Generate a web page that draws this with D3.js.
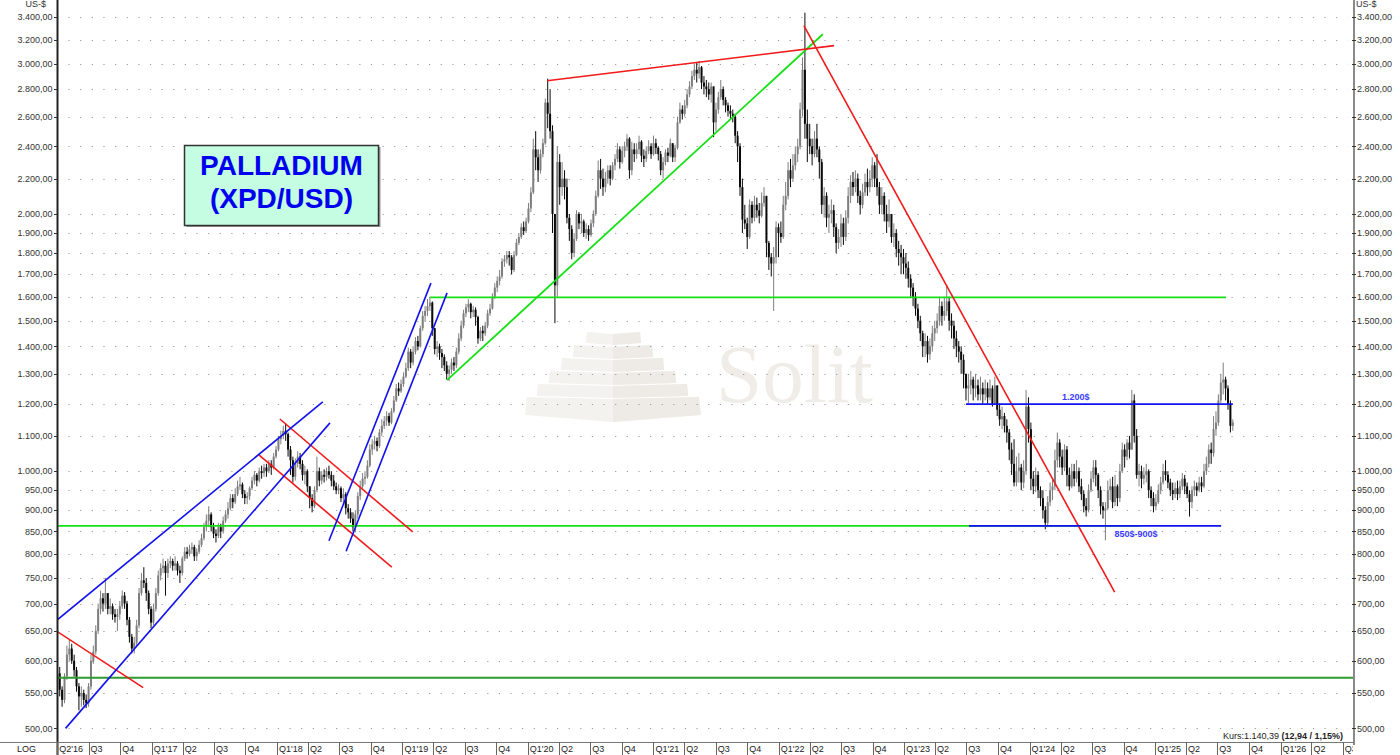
<!DOCTYPE html>
<html><head><meta charset="utf-8">
<script src="https://cdn.jsdelivr.net/npm/d3@7"></script>
<style>
html,body{margin:0;padding:0;background:#fff;}
svg{display:block;font-family:"Liberation Sans",Arial,sans-serif;}
</style></head><body>
<svg id="chart" width="1400" height="755"></svg>
<script>
// ---------------- DATA ----------------
// weekly candles [high, low, close]; open = previous close
const firstWeek = "2016-04-04";
const firstOpen = 580;
const w2016 = [[590,545,555],[560,530,540],[580,535,575],[625,570,610],[635,600,620],[628,595,600],[610,575,585],[590,552,560],[565,525,545],[560,530,550],[555,532,540],[548,528,535],[565,530,560],
[610,555,600],[625,595,615],[660,610,650],[700,645,690],[725,680,710],[720,685,700],[750,690,720],[720,680,690],[710,680,695],[700,670,680],[690,665,675],[690,650,680],[705,670,695],
[725,690,715],[722,690,700],[705,660,670],[675,630,640],[645,612,620],[640,612,630],[670,625,660],[730,655,720],[760,715,745],[772,730,740],[750,705,720],[725,680,690],[695,655,665]];
const w2017 = [[700,660,690],[730,685,720],[765,715,755],[780,745,770],[790,760,775],[785,715,760],[790,750,780],[795,770,785],[790,765,775],[795,765,780],[785,755,765],[775,740,760],[795,755,790],
[815,785,805],[815,790,800],[820,795,810],[825,800,815],[820,785,795],[812,785,805],[830,800,820],[845,815,835],[870,830,860],[890,850,875],[910,860,890],[895,850,860],[870,835,845],
[855,825,840],[870,835,860],[868,835,850],[885,845,875],[900,870,890],[920,880,905],[940,900,930],[940,905,920],[955,915,940],[975,935,960],[985,950,965],[970,930,940],[950,915,930],
[945,915,935],[960,925,955],[985,950,975],[1000,965,990],[995,960,975],[1010,970,1000],[1015,980,995],[1020,985,1010],[1020,985,1000],[1030,995,1020],[1030,990,1010],[1050,1005,1040],[1070,1035,1060]];
const w2018 = [[1100,1055,1090],[1115,1075,1100],[1130,1090,1115],[1138,1085,1105],[1110,1040,1060],[1070,990,1030],[1040,970,985],[1035,975,1020],[1055,1010,1040],[1050,1005,1020],[1030,975,990],[1015,965,1000],[1005,945,960],
[960,905,930],[940,895,910],[960,905,950],[1040,945,1000],[1010,960,975],[1000,965,990],[1005,970,985],[1010,975,1000],[1015,980,990],[1000,960,975],[990,950,960],[970,940,950],[965,940,955],
[960,920,930],[955,915,940],[945,890,905],[915,880,895],[905,870,880],[895,850,860],[900,848,890],[945,880,935],[975,925,960],[995,955,980],[1000,965,985],[1030,980,1015],[1075,1010,1060],
[1090,1045,1075],[1100,1060,1085],[1095,1055,1070],[1120,1065,1110],[1150,1100,1130],[1160,1120,1145],[1175,1130,1160],[1170,1130,1140],[1185,1135,1175],[1225,1170,1210],[1265,1205,1250],[1270,1225,1240],[1280,1235,1265]];
const w2019 = [[1305,1255,1290],[1340,1285,1320],[1395,1310,1380],[1390,1320,1340],[1400,1330,1380],[1435,1370,1420],[1440,1385,1400],[1480,1395,1470],[1540,1460,1520],[1560,1495,1540],[1590,1520,1560],[1600,1540,1575],[1580,1440,1470],
[1460,1370,1390],[1420,1360,1400],[1410,1350,1375],[1390,1320,1360],[1370,1310,1330],[1345,1280,1300],[1330,1275,1315],[1355,1300,1340],[1360,1310,1330],[1395,1320,1380],[1450,1370,1430],[1500,1420,1480],[1545,1470,1530],
[1570,1515,1555],[1590,1535,1570],[1575,1510,1535],[1560,1515,1545],[1555,1480,1515],[1520,1410,1430],[1475,1420,1460],[1480,1420,1450],[1495,1440,1480],[1545,1470,1530],[1570,1520,1550],[1615,1545,1600],[1660,1590,1640],
[1690,1620,1670],[1720,1650,1690],[1775,1680,1760],[1790,1735,1770],[1810,1750,1790],[1810,1740,1780],[1790,1700,1720],[1810,1710,1790],[1870,1785,1850],[1900,1840,1880],[1950,1870,1930],[1960,1890,1910],[1980,1900,1960]];
const w2020 = [[2060,1950,2030],[2150,2010,2120],[2450,2110,2380],[2500,2250,2330],[2380,2180,2250],[2380,2230,2350],[2450,2330,2420],[2730,2410,2700],[2880,2520,2620],[2800,2450,2500],[2540,1900,2000],[2000,1490,1650],[2400,1600,2300],
[2350,2050,2150],[2300,2100,2200],[2250,2080,2150],[2200,1950,1980],[2000,1860,1920],[1940,1770,1800],[1900,1780,1870],[2020,1860,2000],[2010,1920,1950],[2000,1900,1960],[1970,1880,1900],[1950,1870,1920],[1940,1860,1890],
[1970,1880,1950],[2020,1930,2000],[2130,1990,2100],[2310,2090,2250],[2320,2140,2200],[2260,2100,2150],[2240,2120,2200],[2280,2170,2250],[2280,2160,2200],[2300,2190,2280],[2350,2250,2320],[2420,2300,2380],[2400,2260,2300],
[2400,2290,2370],[2430,2330,2400],[2480,2370,2450],[2460,2200,2250],[2430,2220,2380],[2420,2300,2350],[2420,2320,2380],[2470,2350,2430],[2440,2300,2340],[2380,2270,2320],[2400,2300,2370],[2440,2350,2400],[2420,2320,2350]];
const w2021 = [[2470,2340,2420],[2450,2350,2390],[2400,2310,2350],[2370,2220,2250],[2330,2200,2300],[2380,2280,2360],[2390,2300,2340],[2450,2330,2420],[2420,2300,2330],[2410,2300,2390],[2600,2380,2560],[2700,2550,2650],[2680,2580,2620],
[2720,2600,2680],[2800,2660,2760],[2860,2740,2820],[2940,2800,2900],[3000,2870,2950],[3010,2850,2920],[3020,2880,2970],[2980,2800,2850],[2900,2760,2820],[2870,2740,2800],[2850,2720,2760],[2850,2700,2820],[2800,2460,2560],
[2700,2500,2650],[2780,2620,2740],[2870,2720,2800],[2820,2680,2720],[2740,2630,2680],[2700,2600,2640],[2680,2580,2620],[2650,2560,2600],[2620,2420,2470],[2500,2300,2400],[2420,2100,2150],[2200,1900,1970],[2050,1920,1950],
[1980,1820,1880],[2080,1870,2050],[2070,1950,1980],[2100,1960,2050],[2090,1980,2020],[2060,1950,1990],[2120,1980,2060],[2150,2040,2100],[2080,1780,1850],[1860,1720,1780],[1800,1690,1750],[1830,1540,1780],[1960,1750,1930]];
const w2022 = [[1950,1780,1900],[1960,1850,1880],[2100,1870,2050],[2180,2020,2100],[2300,2080,2250],[2320,2150,2200],[2350,2180,2280],[2400,2250,2350],[2450,2300,2400],[2700,2380,2650],[3050,2600,2950],[3440,2450,2550],[2650,2300,2450],
[2550,2350,2400],[2450,2280,2350],[2500,2330,2450],[2550,2330,2380],[2400,2200,2300],[2320,2000,2050],[2150,1980,2100],[2120,1930,1980],[2050,1900,2000],[2080,1950,2020],[2050,1880,1930],[1950,1800,1850],[1920,1820,1880],
[2000,1830,1950],[1980,1840,1880],[2020,1860,1980],[2150,1950,2100],[2220,2060,2180],[2240,2100,2150],[2250,2120,2200],[2230,2060,2100],[2130,2000,2050],[2170,2030,2120],[2230,2100,2180],[2260,2100,2150],[2250,2120,2200],
[2330,2150,2280],[2300,2150,2200],[2350,2100,2150],[2180,2000,2050],[2150,2000,2100],[2120,1960,2000],[2050,1900,1960],[2080,1930,2000],[2000,1850,1880],[1950,1830,1900],[1920,1780,1820],[1860,1740,1800],[1840,1700,1780]];
const w2023 = [[1820,1700,1750],[1800,1680,1730],[1760,1640,1680],[1700,1600,1640],[1660,1560,1600],[1620,1520,1550],[1570,1470,1500],[1520,1420,1450],[1460,1360,1400],[1450,1360,1420],[1440,1340,1370],[1430,1350,1400],[1480,1380,1450],
[1500,1420,1470],[1530,1450,1500],[1600,1480,1560],[1580,1480,1520],[1600,1500,1540],[1650,1520,1580],[1600,1460,1500],[1530,1430,1480],[1500,1390,1430],[1460,1360,1400],[1420,1340,1380],[1400,1300,1350],[1370,1250,1300],
[1300,1210,1250],[1300,1200,1260],[1310,1230,1280],[1290,1210,1250],[1300,1220,1260],[1280,1210,1230],[1290,1210,1250],[1270,1200,1230],[1280,1210,1250],[1270,1200,1220],[1280,1210,1250],[1260,1190,1200],[1290,1195,1260],
[1240,1160,1180],[1200,1130,1150],[1190,1120,1160],[1170,1110,1130],[1150,1080,1110],[1120,1030,1060],[1080,990,1020],[1090,960,970],[1040,960,1000],[1050,970,1010],[1020,950,970],[1030,955,1000],[1245,990,1190]];
const w2024 = [[1220,1080,1120],[1140,950,980],[1000,940,960],[1010,945,990],[1000,930,950],[960,910,930],[950,880,900],[910,855,870],[935,860,920],[970,910,950],[980,925,960],[1060,950,1030],[1110,1010,1080],
[1090,1010,1040],[1060,990,1010],[1075,1000,1060],[1070,960,990],[1010,950,960],[1020,955,1000],[1020,960,980],[1030,970,1000],[1010,945,960],[980,925,940],[950,895,910],[930,885,900],[965,895,950],
[1000,945,980],[1030,970,1010],[1030,960,990],[995,930,950],[960,890,910],[920,880,900],[920,830,905],[975,900,950],[980,925,960],[985,905,920],[990,910,960],[965,910,930],[1020,920,1000],
[1080,995,1060],[1075,1010,1040],[1090,1030,1080],[1100,1035,1060],[1245,1060,1210],[1230,1080,1100],[1120,980,990],[1020,960,1000],[1015,955,980],[1010,965,990],[1020,970,1000],[1005,930,950],[960,910,930]];
const w2025 = [[945,895,910],[940,900,920],[965,915,950],[985,940,970],[1020,965,1000],[1030,975,990],[1000,955,970],[980,935,950],[970,925,940],[970,930,955],[975,925,940],[975,930,960],[995,950,980],
[990,940,960],[970,930,940],[950,885,920],[960,905,950],[975,935,960],[970,935,950],[985,945,970],[985,945,960],[1020,955,1000],[1040,990,1020],[1075,1010,1060],[1080,1020,1050],[1160,1040,1120],
[1175,1100,1140],[1230,1130,1210],[1300,1200,1270],[1340,1230,1280],[1290,1210,1250],[1260,1180,1200],[1210,1110,1130],[1150,1115,1140.39]];

const yTickValues = [500,550,600,650,700,750,800,850,900,950,1000,1100,1200,1300,1400,1500,1600,1700,1800,1900,2000,2200,2400,2600,2800,3000,3200,3400];
const quarterLabels = ["Q2'16","Q3","Q4","Q1'17","Q2","Q3","Q4","Q1'18","Q2","Q3","Q4","Q1'19","Q2","Q3","Q4","Q1'20","Q2","Q3","Q4","Q1'21","Q2","Q3","Q4","Q1'22","Q2","Q3","Q4","Q1'23","Q2","Q3","Q4","Q1'24","Q2","Q3","Q4","Q1'25","Q2","Q3","Q4","Q1'26","Q2","Q3"];
const xDomain = ["2016-04-01","2026-07-01"];
const yDomain = [482, 3560];

// annotation lines [date, price] -> [date, price]
const redLines = [
  [["2016-04-01",649],["2016-12-07",558]],
  [["2018-01-09",1151],["2019-01-31",849]],
  [["2017-11-09",1045],["2018-12-01",772]],
  [["2020-02-26",2864],["2022-06-11",3148]],
  [["2022-03-15",3323],["2024-09-05",722]]
];
const blueLines = [
  [["2016-04-25",500],["2018-06-04",1139]],
  [["2016-04-01",670],["2018-05-14",1205]],
  [["2018-06-01",829],["2019-03-25",1660]],
  [["2018-07-21",806],["2019-05-11",1617]],
  [["2023-06-30",1198],["2025-08-15",1198]],
  [["2023-07-09",863],["2025-07-12",863]]
];
const limeLines = [
  [["2019-03-23",1597],["2025-07-26",1597]],
  [["2016-04-01",863],["2024-11-17",863]],
  [["2019-05-11",1278],["2022-05-09",3246]]
];
const darkGreenLines = [
  [["2016-04-01",573],["2026-08-20",573]]
];
const zoneLabels = [
  {text:"1.200$", date:"2024-05-15", price:1198, dy:-4},
  {text:"850$-900$", date:"2024-11-06", price:863, dy:11}
];
const titleLines = ["PALLADIUM","(XPD/USD)"];
const unitLabel = "US-$";
const kursText = "Kurs:1.140,39 ";
const kursChange = "(12,94 / 1,15%)";

// ---------------- DRAW ----------------
const W = 1400, H = 755;
const left = 57.5, right = 1354, plotBottom = 742;
const parse = d3.utcParse("%Y-%m-%d");
const svg = d3.select("#chart");

const x = d3.scaleUtc().domain(xDomain.map(parse)).range([57.3, 1342.7]);
const y = d3.scaleLog().domain(yDomain).range([plotBottom, 0]);

const fmt = d3.formatLocale({decimal:",", thousands:".", grouping:[3], currency:["","$"]}).format(",.2f");

svg.append("defs").append("clipPath").attr("id","plotclip")
  .append("rect").attr("x",left).attr("y",0).attr("width",right-left).attr("height",plotBottom);
svg.select("defs").append("clipPath").attr("id","rowclip")
  .append("rect").attr("x",0).attr("y",plotBottom).attr("width",right-1).attr("height",H-plotBottom);

// watermark (Solit)
const wm = svg.append("g").attr("class","watermark");
const layers = [[332,343,587,640],[345,357,574,652],[358,370,562,663],[371,383,550,675],[384,396,538,687],[397,415,527,699]];
const cxp = 613;
layers.forEach((l,i)=>{
  const [t,b,xl,xr] = l;
  const s = 0.69*(b-t);
  const drop = i===5 ? 7 : 2;
  const pts = [[xl,t],[cxp,t+2],[xr,t],[xr+s*0.15,b],[cxp,b+drop],[xl-s*0.15,b]];
  wm.append("path").attr("d",d3.line()(pts)+"Z").attr("fill","#f4f2ee");
  wm.append("path").attr("d",d3.line()([[cxp,t+2],[xr,t],[xr+s*0.15,b],[cxp,b+drop]])+"Z").attr("fill","#eeebe6");
});
wm.append("text").attr("x",716).attr("y",402).attr("font-family","'Liberation Serif','DejaVu Serif',serif")
  .attr("font-size",83).attr("fill","#f0ede8").text("Solit");

// grid dotted rows
svg.append("g").selectAll("line").data(yTickValues).join("line")
  .attr("x1",68.5).attr("x2",1348).attr("y1",d=>Math.round(y(d))+0.5).attr("y2",d=>Math.round(y(d))+0.5)
  .attr("stroke","#9a9a9a").attr("stroke-width",1).attr("stroke-dasharray","1.2,10.43");

// title box
const tb = svg.append("g");
tb.append("rect").attr("x",186.5).attr("y",147).attr("width",194).attr("height",80).attr("fill","#9a9a9a");
tb.append("rect").attr("x",184.5).attr("y",145.5).attr("width",194).attr("height",80)
  .attr("fill","#c4fde1").attr("stroke","#333").attr("stroke-width",1.5);
tb.selectAll("text").data(titleLines).join("text")
  .attr("x",281.5).attr("y",(d,i)=>175+i*33).attr("text-anchor","middle")
  .attr("font-size",28).attr("font-weight","bold").attr("fill","#0000f0").text(d=>d);

// candles
const weeks = [].concat(w2016,w2017,w2018,w2019,w2020,w2021,w2022,w2023,w2024,w2025);
const t0 = parse(firstWeek);
let prev = firstOpen;
const candles = weeks.map((d,i)=>{
  const c = {date:d3.utcDay.offset(t0, i*7+4), open:prev, high:d[0], low:d[1], close:d[2]};
  prev = d[2];
  return c;
});
const cg = svg.append("g").attr("clip-path","url(#plotclip)");
const col = d => d.close >= d.open ? "#7e7e7e" : "#0a0a0a";
cg.selectAll("line.wick").data(candles).join("line").attr("class","wick")
  .attr("x1",d=>x(d.date)).attr("x2",d=>x(d.date))
  .attr("y1",d=>y(Math.max(d.high,d.open,d.close))).attr("y2",d=>y(Math.min(d.low,d.open,d.close)))
  .attr("stroke",col).attr("stroke-width",1);
cg.selectAll("rect.body").data(candles).join("rect").attr("class","body")
  .attr("x",d=>x(d.date)-1).attr("width",2)
  .attr("y",d=>y(Math.max(d.open,d.close)))
  .attr("height",d=>Math.max(1,Math.abs(y(d.open)-y(d.close))))
  .attr("fill",col);

// annotation lines
const lg = svg.append("g").attr("clip-path","url(#plotclip)");
function drawLines(data, color, width){
  lg.selectAll(null).data(data).join("line")
    .attr("x1",d=>x(parse(d[0][0]))).attr("y1",d=>y(d[0][1]))
    .attr("x2",d=>x(parse(d[1][0]))).attr("y2",d=>y(d[1][1]))
    .attr("stroke",color).attr("stroke-width",width);
}
drawLines(darkGreenLines,"#2f9a32",2);
drawLines(limeLines,"#14e014",1.8);
drawLines(redLines,"#f21a1a",1.6);
drawLines(blueLines,"#1212f0",1.6);

svg.append("g").selectAll("text").data(zoneLabels).join("text")
  .attr("x",d=>x(parse(d.date))).attr("y",d=>y(d.price)+d.dy).attr("text-anchor","middle")
  .attr("font-size",9).attr("font-weight","bold").attr("fill","#3a3aff").text(d=>d.text);

// axes
const axL = svg.append("g");
axL.append("line").attr("x1",left).attr("x2",left).attr("y1",0).attr("y2",H).attr("stroke","#222").attr("stroke-width",2);
axL.selectAll("line.t").data(yTickValues).join("line").attr("class","t")
  .attr("x1",54).attr("x2",left).attr("y1",d=>Math.round(y(d))+0.5).attr("y2",d=>Math.round(y(d))+0.5).attr("stroke","#333");
axL.selectAll("text").data(yTickValues).join("text")
  .attr("x",52.5).attr("y",d=>y(d)+3.2).attr("text-anchor","end").attr("font-size",9).attr("fill","#333").text(d=>fmt(d));
svg.append("text").attr("x",46).attr("y",7).attr("text-anchor","end").attr("font-size",9).attr("fill","#333").text(unitLabel);

const axR = svg.append("g");
axR.append("line").attr("x1",right).attr("x2",right).attr("y1",0).attr("y2",plotBottom+3).attr("stroke","#8a8a8a").attr("stroke-width",2);
axR.selectAll("line.t").data(yTickValues).join("line").attr("class","t")
  .attr("x1",1352).attr("x2",1356).attr("y1",d=>Math.round(y(d))+0.5).attr("y2",d=>Math.round(y(d))+0.5).attr("stroke","#333");
axR.selectAll("text").data(yTickValues).join("text")
  .attr("x",1357).attr("y",d=>y(d)+3.2).attr("font-size",9).attr("fill","#333").text(d=>fmt(d));
svg.append("text").attr("x",1356).attr("y",7).attr("font-size",9).attr("fill","#333").text(unitLabel);

// bottom quarter row
svg.append("line").attr("x1",0).attr("x2",right).attr("y1",plotBottom+0.5).attr("y2",plotBottom+0.5).attr("stroke","#777").attr("stroke-width",1);
const quarters = d3.utcMonth.range(parse("2016-04-01"), parse("2026-08-01"), 3);
const qg = svg.append("g").attr("clip-path","url(#rowclip)");
qg.selectAll("line").data(quarters).join("line")
  .attr("x1",d=>Math.round(x(d))+0.5).attr("x2",d=>Math.round(x(d))+0.5).attr("y1",plotBottom).attr("y2",H)
  .attr("stroke","#666");
qg.selectAll("text").data(quarters).join("text")
  .attr("x",d=>x(d)+2).attr("y",752).attr("font-size",9).attr("fill","#222").text((d,i)=>quarterLabels[i]);
svg.append("text").attr("x",17).attr("y",752).attr("font-size",9).attr("fill","#222").text("LOG");

const kt = svg.append("text").attr("x",1343).attr("y",739).attr("text-anchor","end").attr("font-size",9).attr("fill","#222");
kt.append("tspan").text(kursText);
kt.append("tspan").attr("font-weight","bold").text(kursChange);
</script>
</body></html>
